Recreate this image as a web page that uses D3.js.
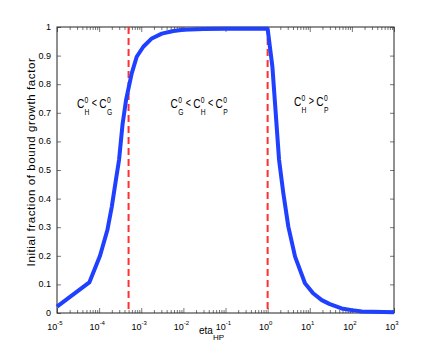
<!DOCTYPE html>
<html>
<head>
<meta charset="utf-8">
<script src="https://cdn.jsdelivr.net/npm/d3@7"></script>
<style>
  body { margin: 0; background: #fff; }
  text { font-family: "Liberation Sans", Arial, sans-serif; fill: #000; }
</style>
</head>
<body>
<svg width="436" height="354"></svg>
<script>
// values
var etaValues = [1e-5, 5.85e-5, 1.05e-4, 1.57e-4, 2.0e-4, 2.5e-4, 2.97e-4, 3.6e-4, 4.36e-4, 5.94e-4, 7.8e-4,
  1.12e-3, 1.78e-3, 3.07e-3, 5.8e-3, 1e-2, 3e-2, 1e-1, 3e-1, 1,
  1.3, 1.87, 2.36, 3.1, 4.48, 7.7, 12, 19.3, 30, 57, 100, 172, 1000];
var fractionValues = [0.022, 0.107, 0.2, 0.29, 0.372, 0.465, 0.535, 0.66, 0.745, 0.838, 0.896,
  0.931, 0.96, 0.977, 0.986, 0.99, 0.993, 0.994, 0.994, 0.994,
  0.86, 0.535, 0.419, 0.302, 0.197, 0.104, 0.069, 0.045, 0.031, 0.016, 0.01, 0.005, 0.003];
var boundaryEta = [5e-4, 1];
var xMajorTicks = [-5, -4, -3, -2, -1, 0, 1, 2, 3];
var yTicks = [0, 0.1, 0.2, 0.3, 0.4, 0.5, 0.6, 0.7, 0.8, 0.9, 1];
var regionLabels = [
  {eta: 7.8e-5, parts: [['C', 'H', '0'], '<', ['C', 'G', '0']]},
  {eta: 2.36e-2, parts: [['C', 'G', '0'], '<', ['C', 'H', '0'], '<', ['C', 'P', '0']]},
  {eta: 10.8, parts: [['C', 'H', '0'], '>', ['C', 'P', '0']]}
];

var svg = d3.select('svg');
var m = {t: 27, l: 57, w: 337, h: 286};

var x = d3.scaleLog().domain([1e-5, 1e3]).range([0, m.w]);
var y = d3.scaleLinear().domain([0, 1]).range([m.h, 0]);

var g = svg.append('g').attr('transform', 'translate(' + [m.l, m.t] + ')');

// minor + major ticks on log axis
var minorTicks = [];
xMajorTicks.forEach(function(e) {
  if (e < 3) for (var k = 2; k <= 9; k++) minorTicks.push(k * Math.pow(10, e));
});
var majorVals = xMajorTicks.map(function(e) { return Math.pow(10, e); });

function tickStyle(sel) {
  sel.select('.domain').remove();
  sel.selectAll('line').attr('stroke', '#777').attr('stroke-width', 1);
  sel.selectAll('text').remove();
}

g.append('g').attr('transform', 'translate(0,' + m.h + ')')
  .call(d3.axisBottom(x).tickValues(minorTicks).tickSize(-3)).call(tickStyle);
g.append('g').attr('transform', 'translate(0,' + m.h + ')')
  .call(d3.axisBottom(x).tickValues(majorVals).tickSize(-5)).call(tickStyle);
g.append('g')
  .call(d3.axisTop(x).tickValues(minorTicks).tickSize(-3)).call(tickStyle);
g.append('g')
  .call(d3.axisTop(x).tickValues(majorVals).tickSize(-5)).call(tickStyle);
g.append('g')
  .call(d3.axisLeft(y).tickValues(yTicks).tickSize(-4)).call(tickStyle);
g.append('g').attr('transform', 'translate(' + m.w + ',0)')
  .call(d3.axisRight(y).tickValues(yTicks).tickSize(-4)).call(tickStyle);

// box
g.append('rect').attr('width', m.w).attr('height', m.h)
  .attr('fill', 'none').attr('stroke', '#222').attr('stroke-width', 1);

// x tick labels 10^e
xMajorTicks.forEach(function(e) {
  var t = g.append('text').attr('x', x(Math.pow(10, e)) - 2).attr('y', m.h + 17)
    .attr('text-anchor', 'middle').style('font-size', '9px');
  t.append('tspan').text('10');
  t.append('tspan').attr('dy', -5).style('font-size', '6px').text(e);
});

// y tick labels
yTicks.forEach(function(v) {
  g.append('text').attr('x', -6).attr('y', y(v) + 3)
    .attr('text-anchor', 'end').style('font-size', '9px')
    .text(v === 0 ? '0' : v === 1 ? '1' : v.toFixed(1));
});

// boundary lines
g.selectAll('.boundary').data(boundaryEta).enter().append('line')
  .attr('class', 'boundary')
  .attr('x1', function(d) { return x(d); }).attr('x2', function(d) { return x(d); })
  .attr('y1', 0).attr('y2', m.h)
  .attr('stroke', '#ff3030').attr('stroke-width', 2).attr('stroke-dasharray', '7,4');

// curve
var line = d3.line().x(function(d) { return x(d[0]); }).y(function(d) { return y(d[1]); });
g.append('path')
  .datum(d3.zip(etaValues, fractionValues))
  .attr('d', line)
  .attr('fill', 'none').attr('stroke', '#2040ff').attr('stroke-width', 4)
  .attr('stroke-linejoin', 'round');

// region labels (C with stacked sub/superscript)
var sx = 0.75;
regionLabels.forEach(function(lab) {
  var grp = g.append('g');
  var cx = 0, base = 0;
  lab.parts.forEach(function(p) {
    if (typeof p === 'string') {
      cx += 3;
      var op = grp.append('text').attr('x', cx).attr('y', base - 1).style('font-size', '12px').text(p);
      cx += op.node().getComputedTextLength() + 3;
    } else {
      var c = grp.append('text').attr('x', cx).attr('y', base).style('font-size', '13.5px').text(p[0]);
      cx += c.node().getComputedTextLength() + 0.5;
      var sub = grp.append('text').attr('x', cx).attr('y', base + 7).style('font-size', '9px').text(p[1]);
      var sup = grp.append('text').attr('x', cx).attr('y', base - 5).style('font-size', '9px').text(p[2]);
      cx += Math.max(sub.node().getComputedTextLength(), sup.node().getComputedTextLength());
    }
  });
  grp.attr('transform', 'translate(' + (x(lab.eta) - cx * sx / 2) + ',' + (lab.eta > 5 ? 79 : 81) + ') scale(' + sx + ',1)');
});

// axis titles
var xt = svg.append('text').attr('x', 199).attr('y', 334).style('font-size', '10px');
xt.append('tspan').text('eta');
xt.append('tspan').attr('dy', 6).style('font-size', '8px').text('HP');

svg.append('text')
  .attr('transform', 'translate(35,162) rotate(-90)')
  .attr('text-anchor', 'middle').style('font-size', '11.5px').style('letter-spacing', '0.6px')
  .text('Initial fraction of bound growth factor');
</script>
</body>
</html>
